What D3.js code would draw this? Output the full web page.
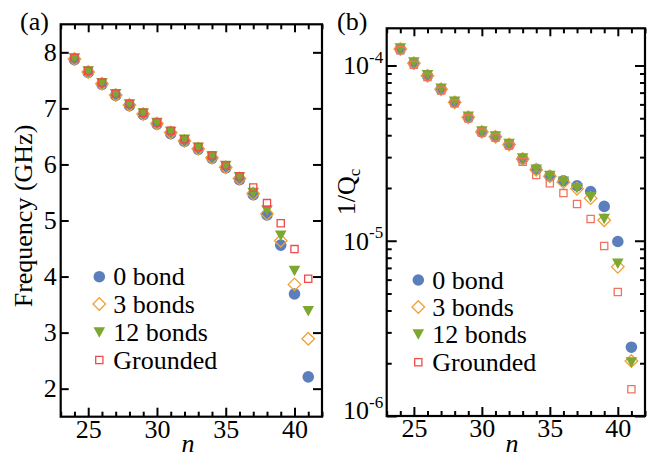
<!DOCTYPE html>
<html><head><meta charset="utf-8">
<script src="https://cdn.jsdelivr.net/npm/d3@7"></script>
<style>
body{margin:0;background:#fff}
svg{display:block}
svg text{font-family:"Liberation Serif","Times New Roman",Times,"DejaVu Serif",serif !important;fill:#000}
</style>
</head><body>
<svg id="chart" width="649" height="458"></svg>
<script>
// ---------- data ----------
const nValues = [24,25,26,27,28,29,30,31,32,33,34,35,36,37,38,39,40,41];
const freq0Bond    = [7.87,7.64,7.43,7.23,7.05,6.89,6.72,6.55,6.41,6.27,6.11,5.94,5.73,5.46,5.10,4.56,3.69,2.21];
const freq3Bonds   = [7.88,7.65,7.44,7.24,7.06,6.90,6.73,6.57,6.42,6.28,6.12,5.95,5.75,5.48,5.12,4.64,3.86,2.89];
const freq12Bonds  = [7.89,7.66,7.45,7.25,7.07,6.91,6.74,6.58,6.44,6.30,6.14,5.97,5.77,5.49,5.18,4.73,4.10,3.38];
const freqGrounded = [7.90,7.67,7.46,7.26,7.08,6.92,6.75,6.60,6.45,6.31,6.16,5.98,5.79,5.59,5.31,4.95,4.49,3.96];

const invQ0Bond    = [1.24e-4,1.03e-4,8.74e-5,7.31e-5,6.16e-5,5.06e-5,4.18e-5,3.92e-5,3.54e-5,2.93e-5,2.56e-5,2.34e-5,2.20e-5,2.06e-5,1.91e-5,1.57e-5,9.9e-6,2.47e-6];
const invQ3Bonds   = [1.24e-4,1.03e-4,8.74e-5,7.31e-5,6.16e-5,5.06e-5,4.18e-5,3.92e-5,3.54e-5,2.93e-5,2.54e-5,2.33e-5,2.16e-5,1.98e-5,1.75e-5,1.31e-5,7.1e-6,2.06e-6];
const invQ12Bonds  = [1.25e-4,1.04e-4,8.8e-5,7.36e-5,6.2e-5,5.1e-5,4.2e-5,3.94e-5,3.56e-5,2.95e-5,2.54e-5,2.34e-5,2.17e-5,1.99e-5,1.77e-5,1.33e-5,7.38e-6,2.02e-6];
const invQGrounded = [1.22e-4,1.01e-4,8.6e-5,7.2e-5,6.08e-5,5.0e-5,4.14e-5,3.88e-5,3.5e-5,2.82e-5,2.37e-5,2.13e-5,1.87e-5,1.62e-5,1.33e-5,9.33e-6,5.1e-6,1.42e-6];

const seriesNames = ["0 bond","3 bonds","12 bonds","Grounded"];
const xMajorTicks = [25,30,35,40];
const xMinorTicks = [23,24,26,27,28,29,31,32,33,34,36,37,38,39,41,42];
const freqTicks = [2,3,4,5,6,7,8];
const invQMajorTicks = [1e-6,1e-5,1e-4];
const invQExponents = ["-6","-5","-4"];
const invQMinorMantissas = [2,3,4,5,6,7,8,9];

// ---------- styles ----------
const colors = {blue:"#5b7fbd", orange:"#f0a135", green:"#7da830", red:"#f04a4a", redB:"#f07360"};
const FS = 26;
const FONT = "'Liberation Serif','Times New Roman',Times,'DejaVu Serif',serif";

const svg = d3.select("#chart");

function markerPath(type){
  if(type==="circle") return d3.symbol(d3.symbolCircle, Math.PI*5.8*5.8)();
  if(type==="diamond"){ const r=6.3; return `M0,${-r}L${r},0L0,${r}L${-r},0Z`; }
  if(type==="triangle"){ const w=5.8, h=10.5; return `M${-w},${-h/2}L${w},${-h/2}L0,${h/2}Z`; }
  if(type==="square"){ const s=3.6; return `M${-s},${-s}L${s},${-s}L${s},${s}L${-s},${s}Z`; }
}
function styleMarker(sel, type, redCol){
  if(type==="circle") sel.attr("fill",colors.blue).attr("stroke","none");
  if(type==="diamond") sel.attr("fill","none").attr("stroke",colors.orange).attr("stroke-width",1.3);
  if(type==="triangle") sel.attr("fill",colors.green).attr("stroke","none");
  if(type==="square") sel.attr("fill","none").attr("stroke",redCol).attr("stroke-width",1.3);
}
const types = ["circle","diamond","triangle","square"];

function panel(box, yScale, seriesList, redCol){
  const g = svg.append("g");
  const x = d3.scaleLinear().domain([23,42]).range([box.l, box.r]);
  g.append("g").attr("transform",`translate(0,${box.b})`)
    .call(d3.axisBottom(x).tickValues(xMinorTicks).tickSizeInner(-5).tickSizeOuter(0).tickFormat(""));
  g.append("g").attr("transform",`translate(0,${box.b})`)
    .call(d3.axisBottom(x).tickValues(xMajorTicks).tickSizeInner(-9).tickSizeOuter(0).tickPadding(3).tickFormat(d3.format("d")));
  g.append("g").attr("transform",`translate(0,${box.t})`)
    .call(d3.axisTop(x).tickValues(xMinorTicks).tickSizeInner(-5).tickSizeOuter(0).tickFormat(""));
  g.append("g").attr("transform",`translate(0,${box.t})`)
    .call(d3.axisTop(x).tickValues(xMajorTicks).tickSizeInner(-8).tickSizeOuter(0).tickFormat(""));
  seriesList.forEach((vals,i)=>{
    const t = types[i];
    const pts = g.append("g").selectAll("path").data(nValues.map((n,j)=>[n,vals[j]])).join("path")
      .attr("d", markerPath(t))
      .attr("transform", d=>`translate(${x(d[0])},${yScale(d[1])})`);
    styleMarker(pts, t, redCol);
  });
  return {g,x};
}

function finishAxes(g){
  g.selectAll(".domain").remove();
  g.selectAll("g").attr("font-family",FONT);
  g.selectAll(".tick line").attr("stroke","#000").attr("stroke-width",2);
  g.selectAll(".tick text").attr("font-size",FS).attr("font-family",FONT).attr("fill","#000");
}

// ---------- panel (a) ----------
const boxA = {l:60.7, r:322, t:24.3, b:416.7};
const yA = d3.scaleLinear().domain([1.5,8.5]).range([boxA.b, boxA.t]);
const pa = panel(boxA, yA, [freq0Bond,freq3Bonds,freq12Bonds,freqGrounded], colors.red);
pa.g.append("g").attr("transform",`translate(${boxA.l},0)`)
  .call(d3.axisLeft(yA).tickValues(freqTicks).tickSizeInner(-8).tickSizeOuter(0).tickPadding(4).tickFormat(d3.format("d")));
pa.g.append("g").attr("transform",`translate(${boxA.r},0)`)
  .call(d3.axisRight(yA).tickValues(freqTicks).tickSizeInner(-9).tickSizeOuter(0).tickFormat(""));
finishAxes(pa.g);
pa.g.append("rect").attr("x",boxA.l).attr("y",boxA.t).attr("width",boxA.r-boxA.l).attr("height",boxA.b-boxA.t)
  .attr("fill","none").attr("stroke","#000").attr("stroke-width",2.2);

// ---------- panel (b) ----------
const boxB = {l:386.7, r:645, t:28.3, b:416};
const yB = d3.scaleLog().domain([1e-6,1.63e-4]).range([boxB.b, boxB.t]);
const pb = panel(boxB, yB, [invQ0Bond,invQ3Bonds,invQ12Bonds,invQGrounded], colors.redB);
const minorLog = [];
[1e-6,1e-5,1e-4].forEach(dec=>invQMinorMantissas.forEach(m=>{const v=m*dec; if(v<=1.63e-4) minorLog.push(v);}));
pb.g.append("g").attr("transform",`translate(${boxB.l},0)`)
  .call(d3.axisLeft(yB).tickValues(minorLog).tickSizeInner(-5).tickSizeOuter(0).tickFormat(""));
pb.g.append("g").attr("transform",`translate(${boxB.r},0)`)
  .call(d3.axisRight(yB).tickValues(minorLog).tickSizeInner(-5).tickSizeOuter(0).tickFormat(""));
pb.g.append("g").attr("transform",`translate(${boxB.r},0)`)
  .call(d3.axisRight(yB).tickValues(invQMajorTicks).tickSizeInner(-10).tickSizeOuter(0).tickFormat(""));
const leftMajor = pb.g.append("g").attr("transform",`translate(${boxB.l},0)`)
  .call(d3.axisLeft(yB).tickValues(invQMajorTicks).tickSizeInner(-10).tickSizeOuter(0).tickPadding(3.5).tickFormat(()=>"10"));
finishAxes(pb.g);
leftMajor.selectAll(".tick text").each(function(d,i){
  const t = d3.select(this);
  if(i===0) t.attr("dy","0.1em");
  t.append("tspan").attr("dy",-11.5).attr("font-size",17).text(invQExponents[i]);
});
pb.g.append("rect").attr("x",boxB.l).attr("y",boxB.t).attr("width",boxB.r-boxB.l).attr("height",boxB.b-boxB.t)
  .attr("fill","none").attr("stroke","#000").attr("stroke-width",2.2);

// ---------- labels ----------
function txt(){ return svg.append("text").attr("font-family",FONT).attr("font-size",FS); }
txt().attr("x",20).attr("y",30).text("(a)");
txt().attr("x",337).attr("y",30).text("(b)");
txt().attr("transform","translate(32,216) rotate(-90)").attr("text-anchor","middle").text("Frequency (GHz)");
const ql = txt().attr("transform","translate(355,192) rotate(-90)").attr("text-anchor","middle");
ql.append("tspan").text("1/Q");
ql.append("tspan").attr("font-size",17).attr("dy",5).text("c");
txt().attr("x",188).attr("y",452).attr("text-anchor","middle").attr("font-style","italic").text("n");
txt().attr("x",512).attr("y",452).attr("text-anchor","middle").attr("font-style","italic").text("n");

// ---------- legends ----------
function legend(x0, rows, redCol){
  seriesNames.forEach((name,i)=>{
    const t = types[i];
    const m = svg.append("path").attr("d",markerPath(t)).attr("transform",`translate(${x0},${rows[i]})`);
    styleMarker(m,t,redCol);
    txt().attr("x",x0+14).attr("y",rows[i]+8.5).text(name);
  });
}
legend(99.3, [276.7,304,332.5,360], colors.red);
legend(418.3, [280,307,334.5,362.3], colors.red);
</script>
</body></html>
